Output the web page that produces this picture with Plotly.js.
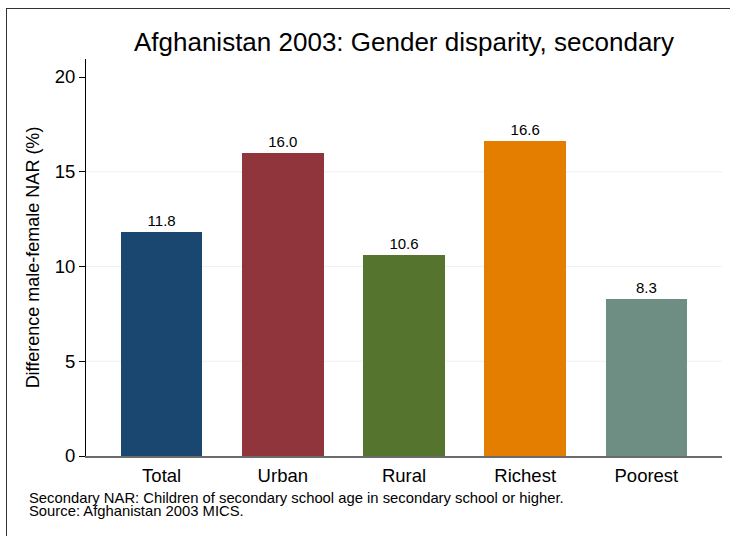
<!DOCTYPE html>
<html>
<head>
<meta charset="utf-8">
<script src="https://cdn.plot.ly/plotly-3.0.1.min.js"></script>
<style>
  html, body { margin: 0; padding: 0; background: #fff; }
  #wrap { position: relative; width: 730px; height: 536px; overflow: hidden; }
  #chart { width: 730px; height: 536px; }
  #frame { position: absolute; left: 6px; top: 8px; width: 760px; height: 560px;
           border: 1px solid #333; pointer-events: none; }
</style>
</head>
<body>
<div id="wrap"><div id="chart"></div><div id="frame"></div></div>
<script>
const categories = ["Total", "Urban", "Rural", "Richest", "Poorest"];
const values = [11.8, 16.0, 10.6, 16.6, 8.3];
const barColors = ["#1a476f", "#90353b", "#55752f", "#e37e00", "#6e8e84"];
const yTicks = [0, 5, 10, 15, 20];
const gridVals = [5, 10, 15];
const titleText = "Afghanistan 2003: Gender disparity, secondary";
const yTitle = "Difference male-female NAR (%)";
const notes = ["Secondary NAR: Children of secondary school age in secondary school or higher.",
               "Source: Afghanistan 2003 MICS."];

const font = "Liberation Sans, Arial, sans-serif";

const trace = {
  type: "bar",
  x: categories,
  y: values,
  width: 0.672,
  marker: { color: barColors, line: { width: 0 } },
  text: values.map(v => v.toFixed(1)),
  textposition: "outside",
  textfont: { family: font, size: 15, color: "#000" },
  cliponaxis: false,
  hoverinfo: "x+y"
};

const shapes = gridVals.map(v => ({
  type: "line", xref: "paper", yref: "y", x0: 0, x1: 1, y0: v, y1: v,
  line: { color: "#eaf2f3", width: 1 }, layer: "below"
}));

const annotations = notes.map((t, i) => ({
  text: t, xref: "paper", yref: "paper", x: (27 - 86) / 636, y: -(41.5 + i * 13) / 397,
  xanchor: "left", yanchor: "middle", showarrow: false,
  font: { family: font, size: 14.8, color: "#000" }
}));

const layout = {
  width: 730, height: 536,
  margin: { l: 86, r: 8, t: 59, b: 80, pad: 0 },
  paper_bgcolor: "#fff", plot_bgcolor: "#fff",
  font: { family: font, color: "#000" },
  showlegend: false,
  title: { text: titleText, font: { family: font, size: 26, color: "#000" },
           x: 0.5, xref: "paper", xanchor: "center", y: 1 - 42 / 536, yanchor: "middle" },
  xaxis: {
    type: "category", range: [-0.624, 4.624],
    showline: true, linecolor: "#6b6b6b", linewidth: 2,
    ticks: "", showgrid: false, zeroline: false,
    tickfont: { family: font, size: 18.5, color: "#000" }, ticklabelstandoff: 2
  },
  yaxis: {
    range: [0, 20.95], tickvals: yTicks, ticktext: yTicks.map(String),
    showline: true, linecolor: "#000", linewidth: 1,
    ticks: "outside", ticklen: 6, tickcolor: "#000", tickwidth: 1,
    showgrid: false, zeroline: false,
    tickfont: { family: font, size: 18.5, color: "#000" },
    title: { text: yTitle, font: { family: font, size: 18, color: "#000" }, standoff: 10 }
  },
  shapes: shapes,
  annotations: annotations,
  bargap: 0
};

Plotly.newPlot("chart", [trace], layout, { displayModeBar: false, staticPlot: true });
</script>
</body>
</html>
